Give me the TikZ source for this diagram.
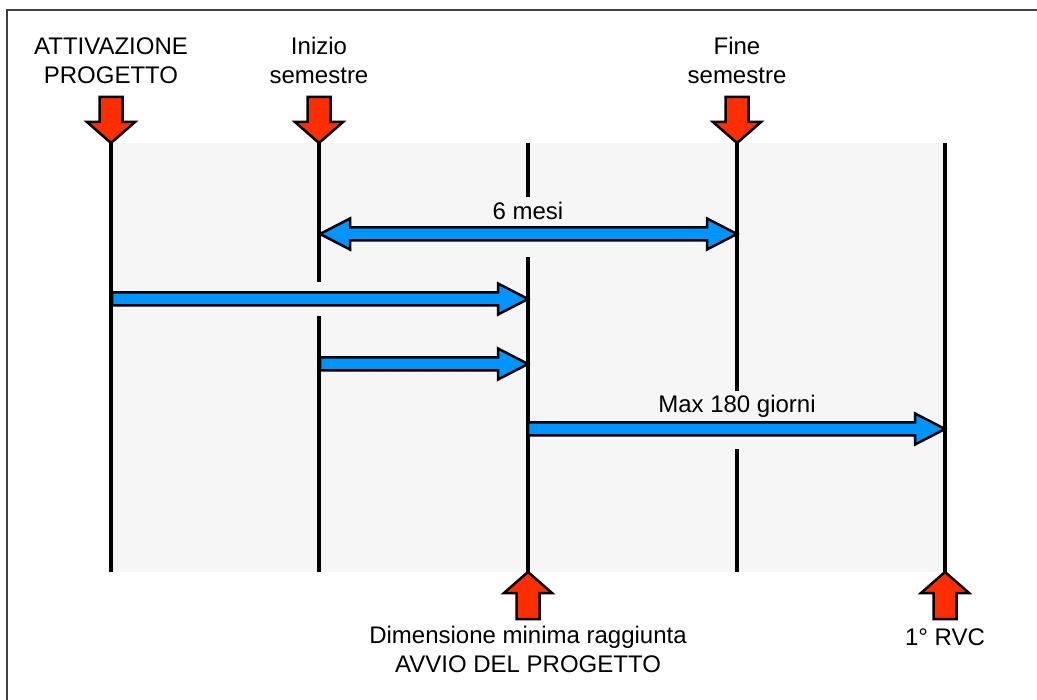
\documentclass[tikz,border=0pt]{standalone}
\usepackage{fontspec}
\setmainfont{Liberation Sans}
\usepackage{tikz}
\usetikzlibrary{calc}

\definecolor{sfondo}{HTML}{F6F6F6}
\definecolor{azzurro}{HTML}{0094FF}
\definecolor{rosso}{HTML}{FF2E00}

% freccia blu da (#1) a (#2)
\newcommand{\frecciablu}[2]{%
  \draw[blu] ($(#1)+(0,6.5)$) -- ($(#2)+(-30,6.5)$) -- ($(#2)+(-30,15.5)$) -- (#2)
    -- ($(#2)+(-30,-15.5)$) -- ($(#2)+(-30,-6.5)$) -- ($(#1)+(0,-6.5)$) -- cycle;}
% freccia blu doppia
\newcommand{\frecciadoppia}[2]{%
  \draw[blu] ($(#1)+(30,6.5)$) -- ($(#2)+(-30,6.5)$) -- ($(#2)+(-30,15.5)$) -- (#2)
    -- ($(#2)+(-30,-15.5)$) -- ($(#2)+(-30,-6.5)$) -- ($(#1)+(30,-6.5)$)
    -- ($(#1)+(30,-15.5)$) -- (#1) -- ($(#1)+(30,15.5)$) -- cycle;}

\begin{document}
\begin{tikzpicture}[x=1pt, y=-1pt,
    linea/.style={line width=4pt, black},
    blu/.style={fill=azzurro, draw=black, line width=2.5pt, line join=miter},
    rosso/.style={fill=rosso, draw=black, line width=2.5pt, line join=miter},
    etichetta/.style={align=center, inner sep=0pt, font=\fontsize{24}{29}\selectfont},
    giu/.pic={\draw[rosso] (0,0) -- (-24,-21) -- (-11.5,-21) -- (-11.5,-46) -- (11.5,-46) -- (11.5,-21) -- (24,-21) -- cycle;},
    su/.pic={\draw[rosso] (0,0) -- (-24,21) -- (-11.5,21) -- (-11.5,47) -- (11.5,47) -- (11.5,21) -- (24,21) -- cycle;}]
  \useasboundingbox (0,0) rectangle (1037,700);
  \draw[line width=2pt, black!75] (7,700) -- (7,10) -- (1037,10);
  \fill[sfondo] (112,143) rectangle (945,572);

  % linee verticali
  \coordinate (att) at (111,143);
  \coordinate (ini) at (319,143);
  \coordinate (avv) at (528,143);
  \coordinate (fin) at (737,143);
  \coordinate (rvc) at (945,143);
  \draw[linea] (att) -- (111,572);
  \draw[linea] (ini) -- (319,282) (319,316) -- (319,572);
  \draw[linea] (avv) -- (528,197) (528,257) -- (528,572);
  \draw[linea] (fin) -- (737,391) (737,449) -- (737,572);
  \draw[linea] (rvc) -- (945,572);

  % frecce rosse
  \pic at (att) {giu};
  \pic at (ini) {giu};
  \pic at (fin) {giu};
  \pic at (528,572) {su};
  \pic at (945,572) {su};

  \node[etichetta, anchor=base] (tatt) at (111,84) {ATTIVAZIONE\\PROGETTO};
  \node[etichetta, anchor=base] (tini) at (319,84) {Inizio\\semestre};
  \node[etichetta, anchor=base] (tfin) at (737,84) {Fine\\semestre};
  \node[etichetta, anchor=base] (tavv) at (528,672) {Dimensione minima raggiunta\\AVVIO DEL PROGETTO};
  \node[etichetta, anchor=base] (trvc) at (945,645) {1° RVC};

  % frecce blu
  \coordinate (m1) at (320,234);
  \coordinate (m2) at (737,234);
  \coordinate (a1) at (112,299);
  \coordinate (a2) at (528,299);
  \coordinate (b1) at (320,364);
  \coordinate (b2) at (528,364);
  \coordinate (c1) at (528,429);
  \coordinate (c2) at (945,429);
  \frecciadoppia{m1}{m2}
  \frecciablu{a1}{a2}
  \frecciablu{b1}{b2}
  \frecciablu{c1}{c2}
  \node[etichetta, anchor=base] (tmesi) at (528,220) {6 mesi};
  \node[etichetta, anchor=base] (tmax) at (737,413) {Max 180 giorni};
\end{tikzpicture}
\end{document}
